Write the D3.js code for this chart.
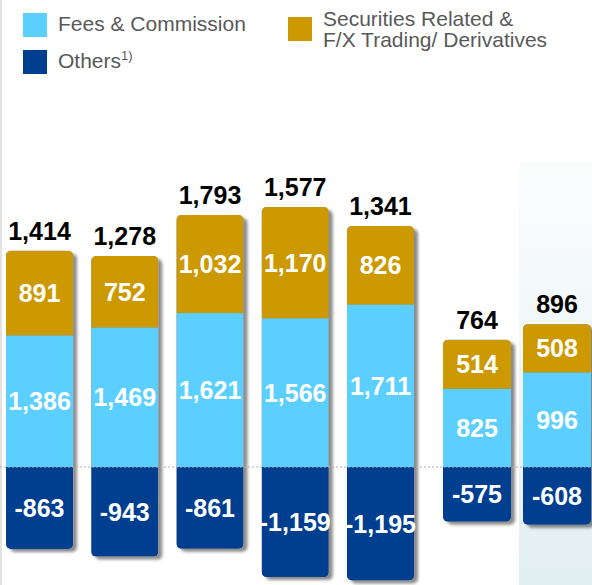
<html lang="en">
<head>
<meta charset="UTF-8">
<title>Revenue breakdown</title>
<script src="https://d3js.org/d3.v7.min.js"></script>
<style>
    body { margin: 0; background: #fff; }
    svg { display: block; font-family: Arial, "Liberation Sans", sans-serif; }
</style>
</head>
<body>
<script>
    // data
    const annualCats = ['FY15', 'FY16', 'FY17', 'FY18', 'FY19'];
    const halfCats = ['1H FY19', '1H FY20'];
    const categories = annualCats.concat(halfCats);
    const fees = [1386, 1469, 1621, 1566, 1711, 825, 996];
    const securities = [891, 752, 1032, 1170, 826, 514, 508];
    const others = [-863, -943, -861, -1159, -1195, -575, -608];
    const totals = [1414, 1278, 1793, 1577, 1341, 764, 896];
    const seriesNames = ['Fees & Commission', 'Securities Related &|F/X Trading/ Derivatives', 'Others'];

    const w = 592, h = 585;
    const fmt = d3.formatLocale({ decimal: '.', thousands: ',', grouping: [3], currency: ['', ''], minus: '-' }).format(',');
    const color = d3.scaleOrdinal()
        .domain(['fees', 'securities', 'others'])
        .range(['#5bcfff', '#cc9900', '#003f8f']);

    const xAnnual = d3.scaleBand().domain(annualCats).range([6, 414]).paddingInner(0.214).paddingOuter(0);
    const xHalf = d3.scaleBand().domain(halfCats).range([443, 591]).paddingInner(0.15).paddingOuter(0);
    const x = c => annualCats.includes(c) ? xAnnual(c) : xHalf(c);
    const bw = c => annualCats.includes(c) ? xAnnual.bandwidth() : xHalf.bandwidth();

    const y = d3.scaleLinear().domain([-1242, 4916]).range([h, 0]);

    const svg = d3.select('body').append('svg')
        .attr('width', w)
        .attr('height', h);

    const defs = svg.append('defs');
    const grad = defs.append('linearGradient').attr('id', 'panelGrad')
        .attr('x1', 0).attr('y1', 0).attr('x2', 0).attr('y2', 1);
    grad.append('stop').attr('offset', '0%').attr('stop-color', '#fbfdfd');
    grad.append('stop').attr('offset', '100%').attr('stop-color', '#e2eff2');

    defs.append('filter').attr('id', 'shadow')
        .attr('x', '-10%').attr('y', '-10%').attr('width', '130%').attr('height', '130%')
        .append('feDropShadow')
        .attr('dx', 4).attr('dy', 3).attr('stdDeviation', 1.5)
        .attr('flood-color', '#000').attr('flood-opacity', 0.45);

    // highlight panel behind the last bar
    svg.append('rect')
        .attr('x', 519).attr('y', 162)
        .attr('width', w - 519).attr('height', h - 162)
        .attr('fill', 'url(#panelGrad)');

    // left border
    svg.append('rect')
        .attr('x', 0).attr('y', 0).attr('width', 2).attr('height', h)
        .attr('fill', '#e2e2e2');

    const rows = categories.map((c, i) => ({
        cat: c, i: i, fees: fees[i], securities: securities[i], others: others[i], total: totals[i]
    }));

    const bars = svg.selectAll('g.bar')
        .data(rows)
        .enter()
        .append('g')
        .attr('class', 'bar');

    bars.each(function(d) {
        const g = d3.select(this);
        const x0 = x(d.cat), bwid = bw(d.cat);
        const top = y(d.fees + d.securities), bottom = y(d.others);
        const id = 'clip' + d.i;

        defs.append('clipPath').attr('id', id)
            .append('rect')
            .attr('x', x0).attr('y', top)
            .attr('width', bwid).attr('height', bottom - top)
            .attr('rx', 5);

        g.append('rect')
            .attr('x', x0).attr('y', top)
            .attr('width', bwid).attr('height', bottom - top)
            .attr('rx', 5)
            .attr('fill', '#888')
            .attr('filter', 'url(#shadow)');

        const segs = [
            { key: 'others', y0: 0, y1: d.others, v: d.others },
            { key: 'fees', y0: 0, y1: d.fees, v: d.fees },
            { key: 'securities', y0: d.fees, y1: d.fees + d.securities, v: d.securities }
        ];
        const sg = g.append('g').attr('clip-path', 'url(#' + id + ')');
        sg.selectAll('rect')
            .data(segs)
            .enter()
            .append('rect')
            .attr('x', x0)
            .attr('y', s => y(Math.max(s.y0, s.y1)))
            .attr('width', bwid)
            .attr('height', s => Math.abs(y(s.y0) - y(s.y1)))
            .attr('fill', s => color(s.key));

        g.selectAll('text.seg')
            .data(segs)
            .enter()
            .append('text')
            .attr('class', 'seg')
            .attr('x', x0 + bwid / 2)
            .attr('y', s => (y(s.y0) + y(s.y1)) / 2 + 9)
            .attr('text-anchor', 'middle')
            .attr('fill', '#fff')
            .style('font-size', '25px')
            .style('font-weight', 'bold')
            .text(s => fmt(s.v));

        g.append('text')
            .attr('x', x0 + bwid / 2)
            .attr('y', top - 11)
            .attr('text-anchor', 'middle')
            .attr('fill', '#000')
            .style('font-size', '25px')
            .style('font-weight', 'bold')
            .text(fmt(d.total));
    });

    // zero line
    svg.append('line')
        .attr('x1', 0).attr('x2', w)
        .attr('y1', y(0)).attr('y2', y(0))
        .attr('stroke', '#b0b0b0')
        .attr('stroke-width', 1)
        .attr('stroke-dasharray', '2,2');

    // legend
    const legend = svg.append('g').attr('id', 'legend');
    const legendItems = [
        { key: 'fees', name: seriesNames[0], x: 23, y: 13 },
        { key: 'others', name: seriesNames[2], x: 23, y: 50 },
        { key: 'securities', name: seriesNames[1], x: 288, y: 17 }
    ];
    legendItems.forEach(it => {
        legend.append('rect')
            .attr('x', it.x).attr('y', it.y)
            .attr('width', 24).attr('height', 24)
            .attr('fill', color(it.key));
        const lines = it.name.split('|');
        lines.forEach((ln, j) => {
            const t = legend.append('text')
                .attr('x', it.x + 35)
                .attr('y', lines.length > 1 ? it.y + 9 + j * 21 : it.y + 18)
                .attr('fill', '#595959')
                .style('font-size', '21px')
                .text(ln);
            if (it.key === 'others') {
                t.append('tspan')
                    .attr('dy', -8)
                    .style('font-size', '13px')
                    .text('1)');
            }
        });
    });
</script>
</body>
</html>
